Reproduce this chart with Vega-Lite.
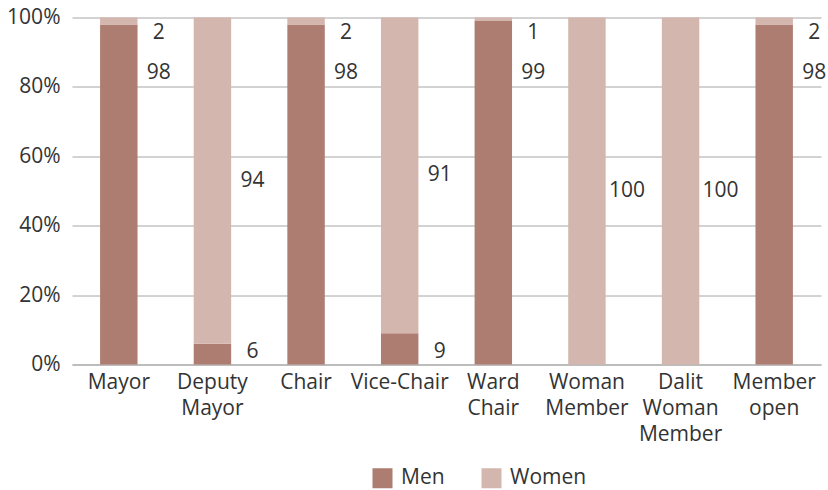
{
  "$schema": "https://vega.github.io/schema/vega-lite/v6.json",
  "width": 749,
  "height": 347,
  "autosize": {"type": "none"},
  "padding": {"left": 72, "top": 17.5, "right": 7, "bottom": 125.5},
  "background": "white",
  "config": {
    "font": "Open Sans",
    "view": {"stroke": null},
    "axis": {"labelFont": "Open Sans", "labelFontSize": 21, "labelColor": "#333333"},
    "legend": {"labelFont": "Open Sans", "labelFontSize": 21, "labelColor": "#333333"}
  },
  "data": {
    "values": [
      {"role": "Mayor", "gender": "Men", "value": 98},
      {"role": "Mayor", "gender": "Women", "value": 2},
      {"role": "Deputy Mayor", "gender": "Men", "value": 6},
      {"role": "Deputy Mayor", "gender": "Women", "value": 94},
      {"role": "Chair", "gender": "Men", "value": 98},
      {"role": "Chair", "gender": "Women", "value": 2},
      {"role": "Vice-Chair", "gender": "Men", "value": 9},
      {"role": "Vice-Chair", "gender": "Women", "value": 91},
      {"role": "Ward Chair", "gender": "Men", "value": 99},
      {"role": "Ward Chair", "gender": "Women", "value": 1},
      {"role": "Woman Member", "gender": "Men", "value": 0},
      {"role": "Woman Member", "gender": "Women", "value": 100},
      {"role": "Dalit Woman Member", "gender": "Men", "value": 0},
      {"role": "Dalit Woman Member", "gender": "Women", "value": 100},
      {"role": "Member open", "gender": "Men", "value": 98},
      {"role": "Member open", "gender": "Women", "value": 2}
    ]
  },
  "encoding": {
    "x": {
      "field": "role",
      "type": "nominal",
      "sort": null,
      "title": null,
      "scale": {"paddingInner": 0.6, "paddingOuter": 0.3},
      "axis": {
        "labelAngle": 0,
        "ticks": false,
        "domainColor": "#a6a6a6",
        "domainWidth": 1,
        "labelPadding": 7,
        "labelLineHeight": 26,
        "labelBaseline": "top",
        "labelExpr": "split(datum.label, ' ')"
      }
    }
  },
  "layer": [
    {
      "mark": {"type": "bar"},
      "encoding": {
        "y": {
          "field": "value",
          "type": "quantitative",
          "stack": "zero",
          "title": null,
          "scale": {"domain": [0, 100], "nice": false},
          "axis": {
            "values": [0, 20, 40, 60, 80, 100],
            "labelExpr": "datum.value + '%'",
            "domain": false,
            "ticks": false,
            "grid": true,
            "gridColor": "#a6a6a6",
            "gridWidth": 1,
            "labelPadding": 12
          }
        },
        "order": {"field": "gender", "sort": "ascending"},
        "color": {
          "field": "gender",
          "type": "nominal",
          "title": null,
          "scale": {"domain": ["Men", "Women"], "range": ["#ad7d71", "#d3b6ae"]},
          "legend": {
            "orient": "none",
            "direction": "horizontal",
            "legendX": 300,
            "legendY": 450,
            "symbolType": "square",
            "symbolSize": 400,
            "symbolStrokeWidth": 0,
            "symbolOpacity": 1,
            "labelOffset": 8,
            "columnPadding": 36
          }
        }
      }
    },
    {
      "transform": [
        {"filter": "datum.value > 0"},
        {"calculate": "datum.gender == 'Men' ? (datum.value > 50 ? 84 : 3.5) : (datum.value < 5 ? 95.5 : 100 - datum.value / 2)", "as": "lp"}
      ],
      "mark": {"type": "text", "dx": 40, "align": "center", "baseline": "middle", "fontSize": 21, "color": "#333333", "font": "Open Sans"},
      "encoding": {
        "y": {"field": "lp", "type": "quantitative"},
        "text": {"field": "value", "type": "quantitative"}
      }
    }
  ]
}
